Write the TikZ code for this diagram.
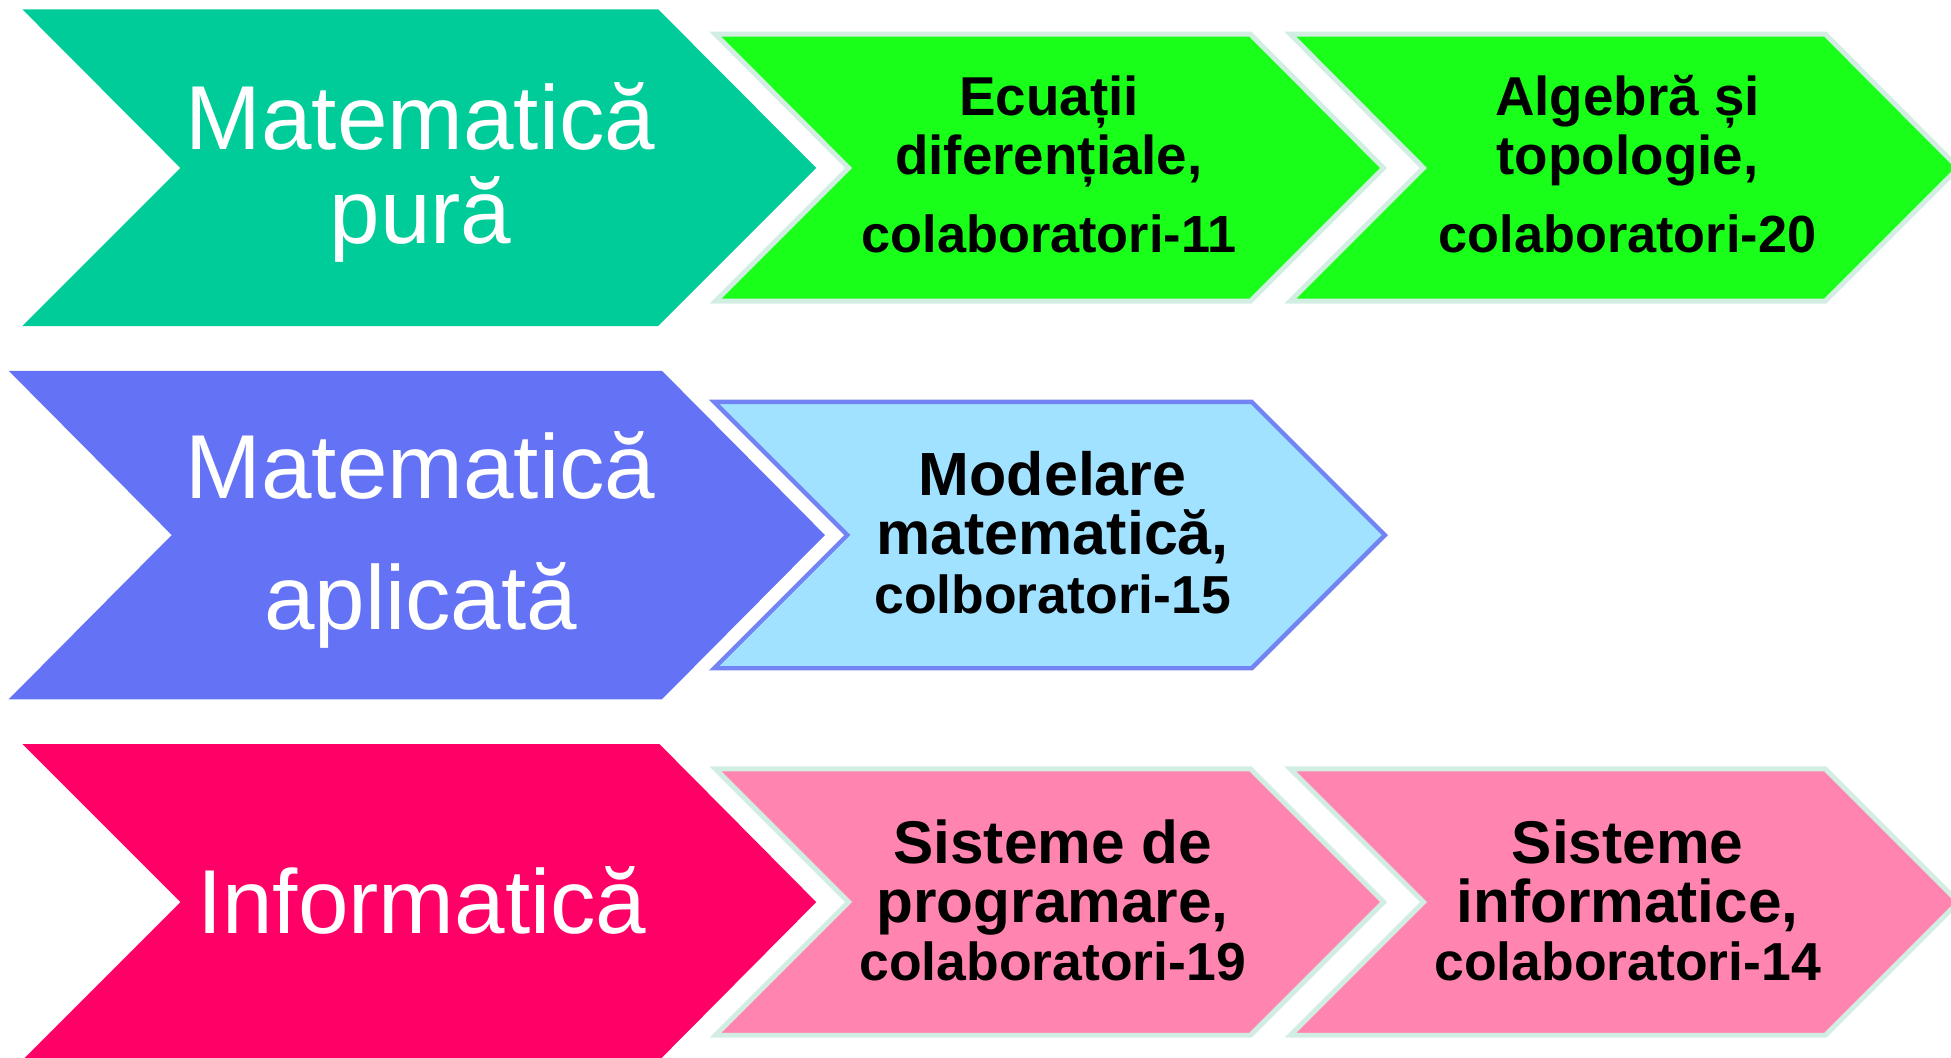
\documentclass[tikz,border=0pt]{standalone}
\usepackage{fontspec}
\setmainfont{Liberation Sans}
\definecolor{tealbig}{HTML}{00CC99}
\definecolor{greenbox}{HTML}{1AFF1A}
\definecolor{mintline}{HTML}{D2EEE2}
\definecolor{bluebig}{HTML}{6473F5}
\definecolor{lightblue}{HTML}{A0E2FF}
\definecolor{blueline}{HTML}{7283F3}
\definecolor{redbig}{HTML}{FF0066}
\definecolor{pinkbox}{HTML}{FF85B0}
\begin{document}
\begin{tikzpicture}[x=1pt,y=-1pt,
  bigtext/.style={text=white,align=center,anchor=base,font=\fontsize{73}{76}\selectfont},
  smalltext/.style={align=center,anchor=base,font=\bfseries\fontsize{44}{47}\selectfont},
  edge/.style={line width=4pt,line join=miter}]
\useasboundingbox (0,0) rectangle (1568,849.5);

% first row
\fill[tealbig] (18,7.5) -- (529,7.5) -- (656,135) -- (529,262) -- (18,262) -- (145,135) -- cycle;
\filldraw[fill=greenbox,draw=mintline,edge] (575,27.5) -- (1005,27.5) -- (1112,135) -- (1005,242) -- (575,242) -- (682,135) -- cycle;
\filldraw[fill=greenbox,draw=mintline,edge] (1037,27.5) -- (1467,27.5) -- (1574,135) -- (1467,242) -- (1037,242) -- (1144,135) -- cycle;
\node[bigtext] (mathpure) at (338,196) {Matematică\\pură};
\node[smalltext] (ecuatii) at (843,203) {Ecuații\\diferențiale,\\[16pt]{\fontsize{42}{47}\selectfont colaboratori-11}};
\node[smalltext] (algebra) at (1308,203) {Algebră și\\topologie,\\[16pt]{\fontsize{42}{47}\selectfont colaboratori-20}};

% second row
\fill[bluebig] (7,298) -- (532,298) -- (663,430) -- (532,562) -- (7,562) -- (138,430) -- cycle;
\filldraw[fill=lightblue,draw=blueline,line width=3.5pt,line join=miter] (574,323) -- (1006,323) -- (1113,430) -- (1006,537) -- (574,537) -- (681,430) -- cycle;
\node[bigtext] (mathapl) at (338,506) {Matematică\\[29pt]aplicată};
\node[smalltext,font=\bfseries\fontsize{49}{48}\selectfont] (modelare) at (846,493) {Modelare\\matematică,\\[-1pt]{\fontsize{43}{47}\selectfont colboratori-15}};

% third row
\fill[redbig] (18,598) -- (530,598) -- (656,725) -- (530,852) -- (18,852) -- (145,725) -- cycle;
\filldraw[fill=pinkbox,draw=mintline,edge] (575,618) -- (1005,618) -- (1112,725) -- (1005,832) -- (575,832) -- (682,725) -- cycle;
\filldraw[fill=pinkbox,draw=mintline,edge] (1037,618) -- (1467,618) -- (1574,725) -- (1467,832) -- (1037,832) -- (1144,725) -- cycle;
\node[bigtext] (info) at (339,750) {Informatică};
\node[smalltext,font=\bfseries\fontsize{48.5}{47}\selectfont] (sistprog) at (846,788) {Sisteme de\\programare,\\{\fontsize{43}{47}\selectfont colaboratori-19}};
\node[smalltext,font=\bfseries\fontsize{48.5}{47}\selectfont] (sistinfo) at (1308,788) {Sisteme\\informatice,\\{\fontsize{43}{47}\selectfont colaboratori-14}};
\end{tikzpicture}
\end{document}
